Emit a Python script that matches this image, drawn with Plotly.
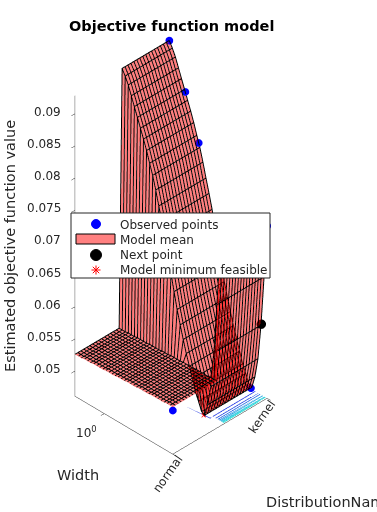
import numpy as np
import plotly.graph_objects as go

categories = ["normal", "kernel"]
legend_names = ["Observed points", "Model mean", "Next point", "Model minimum feasible"]
kernel_mean = [0.0729, 0.0647, 0.0569, 0.0514, 0.0483, 0.0464, 0.0467, 0.0480, 0.0492, 0.0509, 0.0526,
               0.0543, 0.0562, 0.0582, 0.0603, 0.0628, 0.0653, 0.0678, 0.0704, 0.0726, 0.0747, 0.0769,
               0.0789, 0.0805, 0.0822, 0.0837, 0.0851, 0.0865, 0.0879, 0.0893, 0.0907, 0.0918, 0.0927]
normal_mean = [0.0534, 0.0534, 0.0534, 0.0533, 0.0533, 0.0533, 0.0533, 0.0533, 0.0532, 0.0532, 0.0532,
               0.0532, 0.0531, 0.0531, 0.0531, 0.0531, 0.0530, 0.0530, 0.0530, 0.0529, 0.0529, 0.0529,
               0.0529, 0.0528, 0.0528, 0.0528, 0.0528, 0.0527, 0.0527, 0.0527, 0.0526, 0.0526, 0.0526]
z_ticks = [0.05, 0.055, 0.06, 0.065, 0.07, 0.075, 0.08, 0.085, 0.09]
z_labels = ["0.05", "0.055", "0.06", "0.065", "0.07", "0.075", "0.08", "0.085", "0.09"]
obs_dist = [1.0, 1.0, 1.0, 0.0, 1.0, 1.0]
obs_width = [1.5, 0.68, 0.0, -3.5, -2.67, -3.5]
obs_value = [0.0927, 0.0862, 0.0795, 0.0529, 0.0462, 0.0729]
next_dist = [1.0]
next_width = [-3.2]
next_value = [0.0571]
best_dist = [0.5]
best_width = [-2.67]
best_value = [0.0463]
contour_width = [-2.9, -3.05, -3.15, -3.22, -3.28, -3.33, -3.38, -3.43]
contour_color = ["#1a2fe0", "#1a40e0", "#1a60e0", "#1a80e0", "#10a0e0", "#10b8e0", "#10c8d8", "#10d8d0"]
outer_contour_dist = [0.49, 0.52, 1.0]
outer_contour_width = [-1.65, -2.9, -2.9]

zlo, zhi = 0.0461, 0.0928
n = len(kernel_mean)
log_width = np.linspace(-3.5, 1.5, n)
dist_pos = np.linspace(0, 1, n)
Z = np.array([normal_mean if d < 0.49 else kernel_mean for d in dist_pos])

fig = go.Figure()
fig.add_trace(go.Surface(
    x=dist_pos, y=log_width, z=Z.T, surfacecolor=np.ones_like(Z.T),
    colorscale=[[0, "#ff0000"], [1, "#ff0000"]], showscale=False, opacity=0.5,
    lighting=dict(ambient=1, diffuse=0, specular=0, fresnel=0),
    name=legend_names[1], showlegend=False, hoverinfo="skip"))

# mesh edges of the surface, taken from the same grid and nudged towards the camera
eps_x, eps_y, eps_z = -0.004, -0.02, 0.00007
mx, my, mz = [], [], []
for i, d in enumerate(dist_pos):
    mx += [d + eps_x] * n + [None]
    my += list(log_width + eps_y) + [None]
    mz += list(Z[i] + eps_z) + [None]
for j, w in enumerate(log_width):
    mx += list(dist_pos + eps_x) + [None]
    my += [w + eps_y] * n + [None]
    mz += list(Z[:, j] + eps_z) + [None]
fig.add_trace(go.Scatter3d(x=mx, y=my, z=mz, mode="lines", line=dict(color="black", width=2),
                           showlegend=False, hoverinfo="skip", connectgaps=False))

for w, c in zip(contour_width, contour_color):
    fig.add_trace(go.Scatter3d(x=[0.55, 1.0], y=[w, w], z=[zlo, zlo], mode="lines",
                               line=dict(color=c, width=1.5), showlegend=False, hoverinfo="skip"))
fig.add_trace(go.Scatter3d(x=outer_contour_dist, y=outer_contour_width, z=[zlo] * 3, mode="lines",
                           line=dict(color=contour_color[0], width=1.5), showlegend=False, hoverinfo="skip"))
fig.add_trace(go.Scatter3d(x=obs_dist, y=obs_width, z=obs_value, mode="markers", name=legend_names[0], showlegend=False,
                           marker=dict(color="#0000ff", size=4.5, symbol="circle")))
fig.add_trace(go.Scatter3d(x=next_dist, y=next_width, z=next_value, mode="markers", name=legend_names[2], showlegend=False,
                           marker=dict(color="black", size=5.5, symbol="circle")))
fig.add_trace(go.Scatter3d(x=best_dist, y=best_width, z=best_value, mode="markers", name=legend_names[3], showlegend=False,
                           marker=dict(color="#ff0000", size=1, symbol="x")))

ink = "#262626"
ann = []
for t, s in zip(z_ticks, z_labels):
    ann.append(dict(x=0, y=1.5, z=t, text=s, showarrow=False, xanchor="right", xshift=-12, yshift=2,
                    font=dict(family="DejaVu Sans", size=12, color=ink)))
ann.append(dict(x=0, y=0.0, z=zlo, text="10<sup>0</sup>", showarrow=False, xshift=-18, yshift=-18,
                font=dict(family="DejaVu Sans", size=12, color=ink)))
ann.append(dict(x=0, y=-3.5, z=zlo, text=categories[0], showarrow=False, textangle=-55, xshift=-5, yshift=-20,
                font=dict(family="DejaVu Sans", size=12, color=ink)))
ann.append(dict(x=1, y=-3.5, z=zlo, text=categories[1], showarrow=False, textangle=-55, xshift=-5, yshift=-19,
                font=dict(family="DejaVu Sans", size=12, color=ink)))

axis_common = dict(showgrid=False, zeroline=False, showbackground=False, showspikes=False, showline=True,
                   linecolor=ink, linewidth=1, ticks="outside", tickcolor=ink, showticklabels=False,
                   title=dict(text=""))

W, H = 377, 512
def px(x): return x / W
def py(y): return 1 - y / H
def paper_text(x, y, text, size=14.5, color=ink, **kw):
    return dict(x=px(x), y=py(y), xref="paper", yref="paper", text=text, showarrow=False, yanchor="middle",
                font=dict(family="DejaVu Sans", size=size, color=color), **kw)

rows = [224.5, 239.5, 255, 270]
texts = [paper_text(118, r, t, size=12, xanchor="left") for r, t in zip(rows, legend_names)]

def rect(x0, y0, x1, y1, fill, lc=ink, kind="rect"):
    return dict(type=kind, xref="paper", yref="paper", x0=px(x0), x1=px(x1), y0=py(y0), y1=py(y1),
                fillcolor=fill, line=dict(color=lc, width=1))
shapes = [rect(71, 213, 270, 278, "white"),
          rect(91.5, 219.5, 100.5, 228.5, "#0000ff", "#0000ff", "circle"),
          rect(76, 234, 115, 244, "#ff8080", "black"),
          rect(90.5, 249.5, 101.5, 260.5, "black", "black", "circle")]
for dx, dy in [(4.5, 0), (0, 4.5), (3.2, 3.2), (3.2, -3.2)]:
    shapes.append(dict(type="line", xref="paper", yref="paper", x0=px(96 - dx), x1=px(96 + dx),
                       y0=py(270 - dy), y1=py(270 + dy), line=dict(color="#ff0000", width=1)))

fig.update_layout(
    width=W, height=H, margin=dict(l=0, r=0, t=0, b=0), paper_bgcolor="white", showlegend=False,
    font=dict(family="DejaVu Sans", color=ink),
    scene=dict(
        domain=dict(x=[0, 0.907], y=[0.035, 1]),
        aspectmode="manual", aspectratio=dict(x=0.54, y=0.56, z=1.51),
        camera=dict(projection=dict(type="orthographic"), eye=dict(x=-1.0, y=-1.0, z=1.04), up=dict(x=0, y=0, z=1),
                    center=dict(x=0, y=0, z=0)),
        xaxis=dict(range=[0, 1], tickvals=[0, 1], **axis_common),
        yaxis=dict(range=[-3.5, 1.5], tickvals=[0], **axis_common),
        zaxis=dict(range=[zlo, zhi], tickvals=z_ticks, **axis_common),
        annotations=ann,
    ),
    shapes=shapes,
    annotations=[
        paper_text(171, 26, "<b>Objective function model</b>", size=14.5, color="black", xanchor="center"),
        paper_text(10, 246, "Estimated objective function value", textangle=-90, xanchor="center"),
        paper_text(78, 475, "Width", xanchor="center"),
        paper_text(264, 502, "DistributionNames", xanchor="left"),
    ] + texts,
)
fig.write_html("out.html", post_script="document.body.style.margin='0';", config=dict(displayModeBar=False))
